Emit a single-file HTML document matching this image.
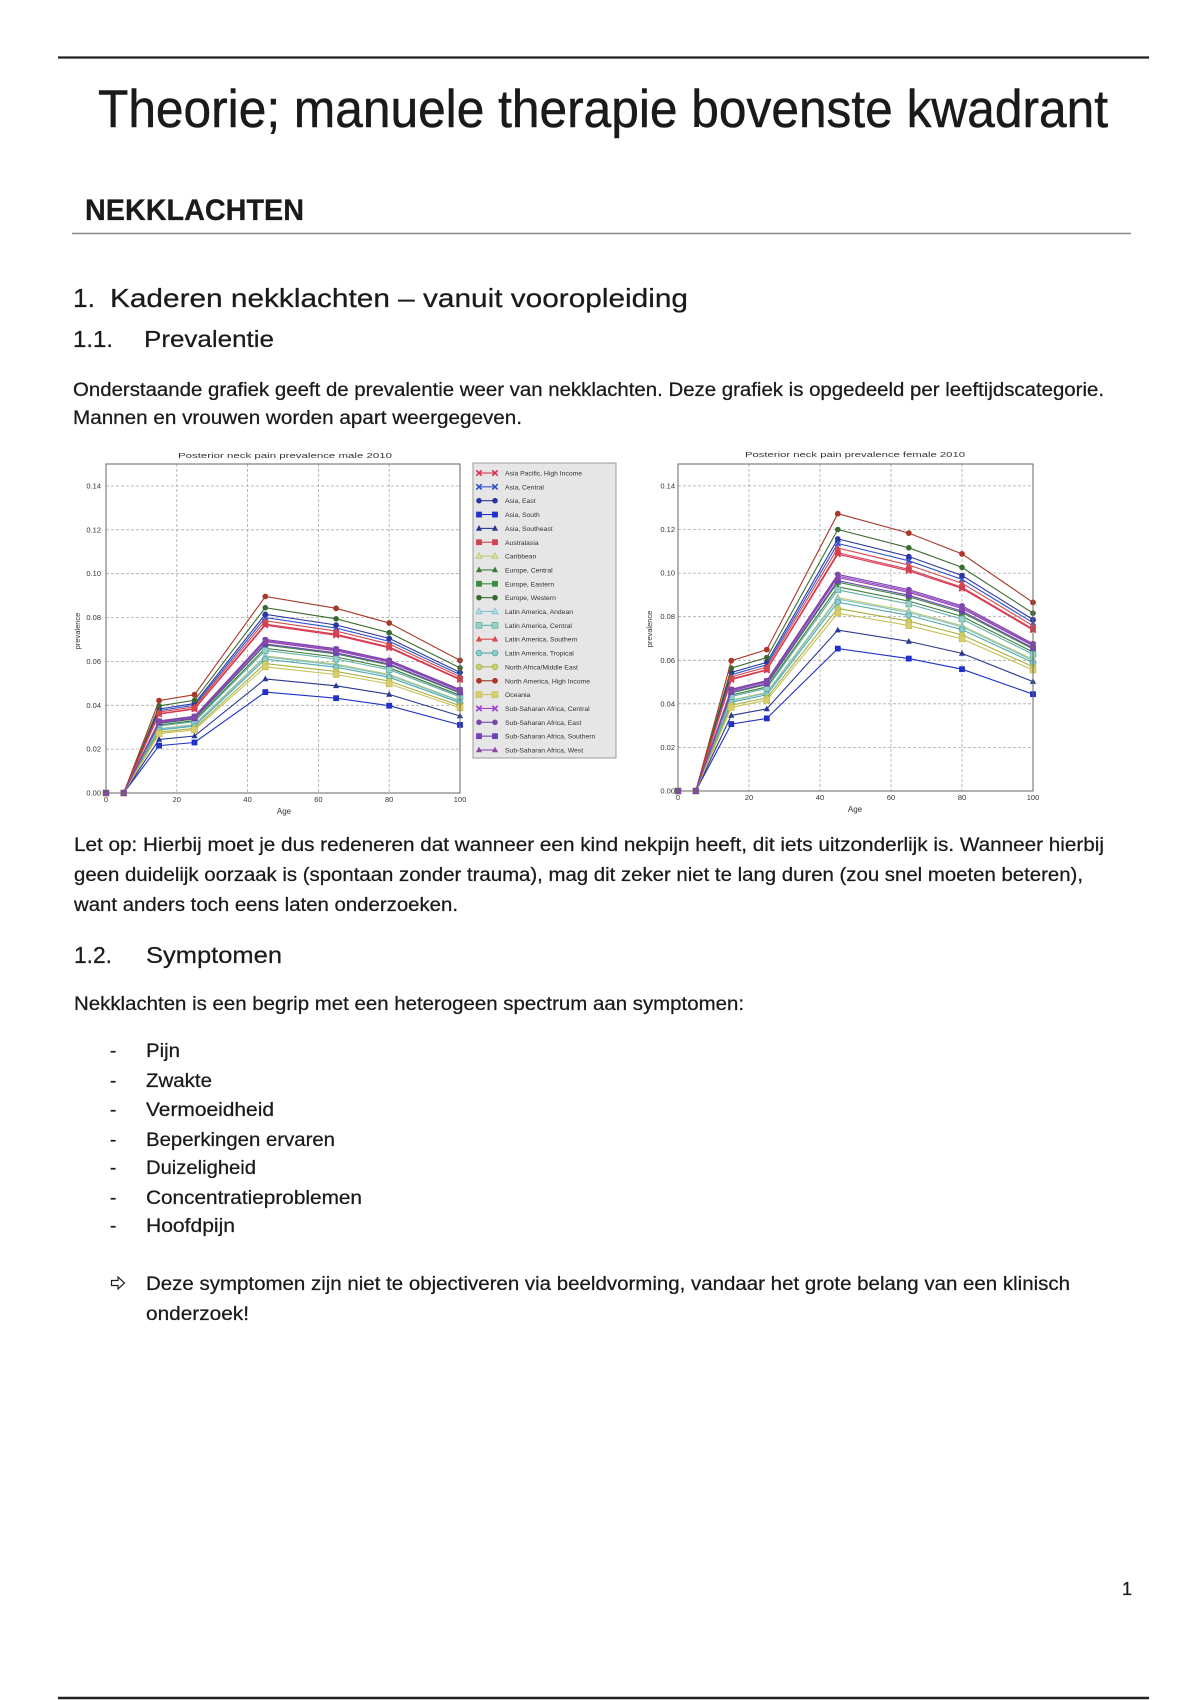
<!DOCTYPE html>
<html>
<head>
<meta charset="utf-8">
<style>
html,body{margin:0;padding:0;background:#fff;}
body{width:1200px;height:1700px;overflow:hidden;}
svg{display:block;}
.t{font-family:"Liberation Sans",sans-serif;fill:#1a1a1a;stroke:#1a1a1a;stroke-width:0.25;}
.ax{font-family:"Liberation Sans",sans-serif;fill:#333;font-size:7.5px;}
.lg{font-family:"Liberation Sans",sans-serif;fill:#333;font-size:6.8px;}
.gr{stroke:#aaa;stroke-width:0.8;stroke-dasharray:3,2;fill:none;}
.s{fill:none;stroke-width:1.1;}
</style>
</head>
<body>
<svg width="1200" height="1700" viewBox="0 0 1200 1700" xmlns="http://www.w3.org/2000/svg">
<defs>
<marker id="m1" markerUnits="userSpaceOnUse" markerWidth="8" markerHeight="8" refX="0" refY="0" overflow="visible"><path d="M-2.7,-2.7L2.7,2.7M-2.7,2.7L2.7,-2.7" stroke="#e03050" stroke-width="1.6" fill="none"/></marker>
<marker id="m2" markerUnits="userSpaceOnUse" markerWidth="8" markerHeight="8" refX="0" refY="0" overflow="visible"><path d="M-2.7,-2.7L2.7,2.7M-2.7,2.7L2.7,-2.7" stroke="#3050d0" stroke-width="1.6" fill="none"/></marker>
<marker id="m3" markerUnits="userSpaceOnUse" markerWidth="8" markerHeight="8" refX="0" refY="0" overflow="visible"><circle r="2.8" fill="#2838a0"/></marker>
<marker id="m4" markerUnits="userSpaceOnUse" markerWidth="8" markerHeight="8" refX="0" refY="0" overflow="visible"><rect x="-2.9" y="-2.9" width="5.8" height="5.8" fill="#2030c8"/></marker>
<marker id="m5" markerUnits="userSpaceOnUse" markerWidth="8" markerHeight="8" refX="0" refY="0" overflow="visible"><path d="M0,-3.4L3.1,2.3L-3.1,2.3Z" fill="#283890"/></marker>
<marker id="m6" markerUnits="userSpaceOnUse" markerWidth="8" markerHeight="8" refX="0" refY="0" overflow="visible"><rect x="-2.9" y="-2.9" width="5.8" height="5.8" fill="#d04050"/></marker>
<marker id="m7" markerUnits="userSpaceOnUse" markerWidth="8" markerHeight="8" refX="0" refY="0" overflow="visible"><path d="M0,-3.4L3.1,2.3L-3.1,2.3Z" fill="#d8e0a0" stroke="#b8c870" stroke-width="0.8"/></marker>
<marker id="m8" markerUnits="userSpaceOnUse" markerWidth="8" markerHeight="8" refX="0" refY="0" overflow="visible"><path d="M0,-3.4L3.1,2.3L-3.1,2.3Z" fill="#3c7a3c"/></marker>
<marker id="m9" markerUnits="userSpaceOnUse" markerWidth="8" markerHeight="8" refX="0" refY="0" overflow="visible"><rect x="-2.9" y="-2.9" width="5.8" height="5.8" fill="#3a8a40"/></marker>
<marker id="m10" markerUnits="userSpaceOnUse" markerWidth="8" markerHeight="8" refX="0" refY="0" overflow="visible"><circle r="2.8" fill="#3a6a30"/></marker>
<marker id="m11" markerUnits="userSpaceOnUse" markerWidth="8" markerHeight="8" refX="0" refY="0" overflow="visible"><path d="M0,-3.4L3.1,2.3L-3.1,2.3Z" fill="#b0dce6" stroke="#80c0d0" stroke-width="0.8"/></marker>
<marker id="m12" markerUnits="userSpaceOnUse" markerWidth="8" markerHeight="8" refX="0" refY="0" overflow="visible"><rect x="-2.9" y="-2.9" width="5.8" height="5.8" fill="#9ad0c8" stroke="#60b0a8" stroke-width="0.8"/></marker>
<marker id="m13" markerUnits="userSpaceOnUse" markerWidth="8" markerHeight="8" refX="0" refY="0" overflow="visible"><path d="M0,-3.4L3.1,2.3L-3.1,2.3Z" fill="#d84848"/></marker>
<marker id="m14" markerUnits="userSpaceOnUse" markerWidth="8" markerHeight="8" refX="0" refY="0" overflow="visible"><circle r="2.8" fill="#90cccc" stroke="#50a8a8" stroke-width="0.8"/></marker>
<marker id="m15" markerUnits="userSpaceOnUse" markerWidth="8" markerHeight="8" refX="0" refY="0" overflow="visible"><circle r="2.8" fill="#c8d070" stroke="#a8b040" stroke-width="0.8"/></marker>
<marker id="m16" markerUnits="userSpaceOnUse" markerWidth="8" markerHeight="8" refX="0" refY="0" overflow="visible"><circle r="2.9" fill="#a83828"/></marker>
<marker id="m17" markerUnits="userSpaceOnUse" markerWidth="8" markerHeight="8" refX="0" refY="0" overflow="visible"><rect x="-2.9" y="-2.9" width="5.8" height="5.8" fill="#d8d070" stroke="#c8c050" stroke-width="0.8"/></marker>
<marker id="m18" markerUnits="userSpaceOnUse" markerWidth="8" markerHeight="8" refX="0" refY="0" overflow="visible"><path d="M-2.7,-2.7L2.7,2.7M-2.7,2.7L2.7,-2.7" stroke="#a040d0" stroke-width="1.6" fill="none"/></marker>
<marker id="m19" markerUnits="userSpaceOnUse" markerWidth="8" markerHeight="8" refX="0" refY="0" overflow="visible"><circle r="2.8" fill="#7848a8"/></marker>
<marker id="m20" markerUnits="userSpaceOnUse" markerWidth="8" markerHeight="8" refX="0" refY="0" overflow="visible"><rect x="-2.9" y="-2.9" width="5.8" height="5.8" fill="#7040b8"/></marker>
<marker id="m21" markerUnits="userSpaceOnUse" markerWidth="8" markerHeight="8" refX="0" refY="0" overflow="visible"><path d="M0,-3.4L3.1,2.3L-3.1,2.3Z" fill="#8848a8"/></marker>
</defs>

<rect x="0" y="0" width="1200" height="1700" fill="#fff"/>

<!-- top rule -->
<line x1="58" y1="57.5" x2="1149" y2="57.5" stroke="#222" stroke-width="2.2"/>

<!-- title -->
<text class="t" x="98" y="127" font-size="53" textLength="1010" lengthAdjust="spacingAndGlyphs" fill="#111" style="stroke-width:0.5">Theorie; manuele therapie bovenste kwadrant</text>

<!-- NEKKLACHTEN -->
<text class="t" x="85" y="220" font-size="30" font-weight="bold" textLength="219" lengthAdjust="spacingAndGlyphs" fill="#151515">NEKKLACHTEN</text>
<line x1="72" y1="233.5" x2="1131" y2="233.5" stroke="#888" stroke-width="1.6"/>

<!-- headings -->
<text class="t" x="73" y="307" font-size="26" textLength="22" lengthAdjust="spacingAndGlyphs" fill="#222">1.</text>
<text class="t" x="110" y="307" font-size="26" textLength="578" lengthAdjust="spacingAndGlyphs" fill="#222">Kaderen nekklachten – vanuit vooropleiding</text>
<text class="t" x="73" y="347" font-size="23" textLength="40" lengthAdjust="spacingAndGlyphs" fill="#222">1.1.</text>
<text class="t" x="144" y="347" font-size="23" textLength="130" lengthAdjust="spacingAndGlyphs" fill="#222">Prevalentie</text>

<!-- paragraph 1 -->
<text class="t" x="73" y="396" font-size="19" textLength="1031" lengthAdjust="spacingAndGlyphs">Onderstaande grafiek geeft de prevalentie weer van nekklachten. Deze grafiek is opgedeeld per leeftijdscategorie.</text>
<text class="t" x="73" y="424" font-size="19" textLength="449" lengthAdjust="spacingAndGlyphs">Mannen en vrouwen worden apart weergegeven.</text>

<!-- ================= MALE CHART ================= -->
<text class="ax" x="285" y="458" font-size="8.5" text-anchor="middle" textLength="214" lengthAdjust="spacingAndGlyphs">Posterior neck pain prevalence male 2010</text>
<rect x="106" y="464" width="354" height="329" fill="#fff"/>
<g class="gr">
<line x1="176.8" y1="464" x2="176.8" y2="793"/>
<line x1="247.6" y1="464" x2="247.6" y2="793"/>
<line x1="318.4" y1="464" x2="318.4" y2="793"/>
<line x1="389.2" y1="464" x2="389.2" y2="793"/>
<line x1="106" y1="749.1" x2="460" y2="749.1"/>
<line x1="106" y1="705.3" x2="460" y2="705.3"/>
<line x1="106" y1="661.4" x2="460" y2="661.4"/>
<line x1="106" y1="617.6" x2="460" y2="617.6"/>
<line x1="106" y1="573.7" x2="460" y2="573.7"/>
<line x1="106" y1="529.8" x2="460" y2="529.8"/>
<line x1="106" y1="486.0" x2="460" y2="486.0"/>
</g>
<g class="ax" text-anchor="end">
<text x="101" y="795.5">0.00</text>
<text x="101" y="751.6">0.02</text>
<text x="101" y="707.8">0.04</text>
<text x="101" y="663.9">0.06</text>
<text x="101" y="620.1">0.08</text>
<text x="101" y="576.2">0.10</text>
<text x="101" y="532.3">0.12</text>
<text x="101" y="488.5">0.14</text>
</g>
<g class="ax" text-anchor="middle">
<text x="106" y="802">0</text>
<text x="176.8" y="802">20</text>
<text x="247.6" y="802">40</text>
<text x="318.4" y="802">60</text>
<text x="389.2" y="802">80</text>
<text x="460" y="802">100</text>
<text x="284" y="814" font-size="8">Age</text>
</g>
<text class="ax" transform="translate(80,631) rotate(-90)" text-anchor="middle">prevalence</text>

<g>
<polyline class="s" stroke="#e03050" marker-start="url(#m1)" marker-mid="url(#m1)" marker-end="url(#m1)" points="106,793 123.7,793 159.1,714.1 194.5,709.1 265.3,625.2 336.1,635.3 389.2,647.9 460,679.7"/>
<polyline class="s" stroke="#3050d0" marker-start="url(#m2)" marker-mid="url(#m2)" marker-end="url(#m2)" points="106,793 123.7,793 159.1,710.6 194.5,705.3 265.3,617.6 336.1,628.1 389.2,641.3 460,674.6"/>
<polyline class="s" stroke="#2838a0" marker-start="url(#m3)" marker-mid="url(#m3)" marker-end="url(#m3)" points="106,793 123.7,793 159.1,709.0 194.5,703.6 265.3,614.3 336.1,625.0 389.2,638.4 460,672.4"/>
<polyline class="s" stroke="#2030c8" marker-start="url(#m4)" marker-mid="url(#m4)" marker-end="url(#m4)" points="106,793 123.7,793 159.1,745.6 194.5,742.5 265.3,692.1 336.1,698.2 389.2,705.7 460,724.9"/>
<polyline class="s" stroke="#283890" marker-start="url(#m5)" marker-mid="url(#m5)" marker-end="url(#m5)" points="106,793 123.7,793 159.1,739.4 194.5,736.0 265.3,679.0 336.1,685.8 389.2,694.4 460,716.0"/>
<polyline class="s" stroke="#d04050" marker-start="url(#m6)" marker-mid="url(#m6)" marker-end="url(#m6)" points="106,793 123.7,793 159.1,713.6 194.5,708.5 265.3,624.1 336.1,634.2 389.2,646.9 460,679.0"/>
<polyline class="s" stroke="#b8c870" marker-start="url(#m7)" marker-mid="url(#m7)" marker-end="url(#m7)" points="106,793 123.7,793 159.1,728.6 194.5,724.4 265.3,655.9 336.1,664.1 389.2,674.4 460,700.5"/>
<polyline class="s" stroke="#3c7a3c" marker-start="url(#m8)" marker-mid="url(#m8)" marker-end="url(#m8)" points="106,793 123.7,793 159.1,725.0 194.5,720.6 265.3,648.3 336.1,657.0 389.2,667.8 460,695.3"/>
<polyline class="s" stroke="#3a8a40" marker-start="url(#m9)" marker-mid="url(#m9)" marker-end="url(#m9)" points="106,793 123.7,793 159.1,723.4 194.5,719.0 265.3,645.0 336.1,653.9 389.2,665.0 460,693.1"/>
<polyline class="s" stroke="#3a6a30" marker-start="url(#m10)" marker-mid="url(#m10)" marker-end="url(#m10)" points="106,793 123.7,793 159.1,705.9 194.5,700.3 265.3,607.7 336.1,618.8 389.2,632.7 460,667.9"/>
<polyline class="s" stroke="#80c0d0" marker-start="url(#m11)" marker-mid="url(#m11)" marker-end="url(#m11)" points="106,793 123.7,793 159.1,729.1 194.5,725.0 265.3,657.0 336.1,665.2 389.2,675.4 460,701.2"/>
<polyline class="s" stroke="#60b0a8" marker-start="url(#m12)" marker-mid="url(#m12)" marker-end="url(#m12)" points="106,793 123.7,793 159.1,726.0 194.5,721.7 265.3,650.5 336.1,659.0 389.2,669.7 460,696.8"/>
<polyline class="s" stroke="#d84848" marker-start="url(#m13)" marker-mid="url(#m13)" marker-end="url(#m13)" points="106,793 123.7,793 159.1,712.1 194.5,706.9 265.3,620.8 336.1,631.1 389.2,644.0 460,676.8"/>
<polyline class="s" stroke="#50a8a8" marker-start="url(#m14)" marker-mid="url(#m14)" marker-end="url(#m14)" points="106,793 123.7,793 159.1,730.1 194.5,726.1 265.3,659.2 336.1,667.2 389.2,677.3 460,702.7"/>
<polyline class="s" stroke="#a8b040" marker-start="url(#m15)" marker-mid="url(#m15)" marker-end="url(#m15)" points="106,793 123.7,793 159.1,732.2 194.5,728.3 265.3,663.6 336.1,671.4 389.2,681.1 460,705.7"/>
<polyline class="s" stroke="#a83828" marker-start="url(#m16)" marker-mid="url(#m16)" marker-end="url(#m16)" points="106,793 123.7,793 159.1,700.6 194.5,694.7 265.3,596.5 336.1,608.3 389.2,623.0 460,660.4"/>
<polyline class="s" stroke="#c8c050" marker-start="url(#m17)" marker-mid="url(#m17)" marker-end="url(#m17)" points="106,793 123.7,793 159.1,733.7 194.5,729.9 265.3,666.9 336.1,674.5 389.2,683.9 460,707.9"/>
<polyline class="s" stroke="#a040d0" marker-start="url(#m18)" marker-mid="url(#m18)" marker-end="url(#m18)" points="106,793 123.7,793 159.1,721.4 194.5,716.8 265.3,640.6 336.1,649.7 389.2,661.2 460,690.1"/>
<polyline class="s" stroke="#7848a8" marker-start="url(#m19)" marker-mid="url(#m19)" marker-end="url(#m19)" points="106,793 123.7,793 159.1,720.9 194.5,716.2 265.3,639.5 336.1,648.7 389.2,660.2 460,689.4"/>
<polyline class="s" stroke="#7040b8" marker-start="url(#m20)" marker-mid="url(#m20)" marker-end="url(#m20)" points="106,793 123.7,793 159.1,722.9 194.5,718.4 265.3,643.9 336.1,652.8 389.2,664.0 460,692.4"/>
<polyline class="s" stroke="#8848a8" marker-start="url(#m21)" marker-mid="url(#m21)" marker-end="url(#m21)" points="106,793 123.7,793 159.1,721.9 194.5,717.3 265.3,641.7 336.1,650.8 389.2,662.1 460,690.9"/>
</g>
<rect x="106" y="464" width="354" height="329" fill="none" stroke="#666" stroke-width="1"/>

<!-- legend -->
<rect x="473" y="463" width="143" height="295" fill="#e6e6e6" stroke="#999" stroke-width="1"/>
<g>
<polyline class="s" stroke="#e03050" marker-start="url(#m1)" marker-end="url(#m1)" points="479,473 495,473"/>
<polyline class="s" stroke="#3050d0" marker-start="url(#m2)" marker-end="url(#m2)" points="479,486.85 495,486.85"/>
<polyline class="s" stroke="#2838a0" marker-start="url(#m3)" marker-end="url(#m3)" points="479,500.7 495,500.7"/>
<polyline class="s" stroke="#2030c8" marker-start="url(#m4)" marker-end="url(#m4)" points="479,514.55 495,514.55"/>
<polyline class="s" stroke="#283890" marker-start="url(#m5)" marker-end="url(#m5)" points="479,528.4 495,528.4"/>
<polyline class="s" stroke="#d04050" marker-start="url(#m6)" marker-end="url(#m6)" points="479,542.25 495,542.25"/>
<polyline class="s" stroke="#b8c870" marker-start="url(#m7)" marker-end="url(#m7)" points="479,556.1 495,556.1"/>
<polyline class="s" stroke="#3c7a3c" marker-start="url(#m8)" marker-end="url(#m8)" points="479,569.95 495,569.95"/>
<polyline class="s" stroke="#3a8a40" marker-start="url(#m9)" marker-end="url(#m9)" points="479,583.8 495,583.8"/>
<polyline class="s" stroke="#3a6a30" marker-start="url(#m10)" marker-end="url(#m10)" points="479,597.65 495,597.65"/>
<polyline class="s" stroke="#80c0d0" marker-start="url(#m11)" marker-end="url(#m11)" points="479,611.5 495,611.5"/>
<polyline class="s" stroke="#60b0a8" marker-start="url(#m12)" marker-end="url(#m12)" points="479,625.35 495,625.35"/>
<polyline class="s" stroke="#d84848" marker-start="url(#m13)" marker-end="url(#m13)" points="479,639.2 495,639.2"/>
<polyline class="s" stroke="#50a8a8" marker-start="url(#m14)" marker-end="url(#m14)" points="479,653.05 495,653.05"/>
<polyline class="s" stroke="#a8b040" marker-start="url(#m15)" marker-end="url(#m15)" points="479,666.9 495,666.9"/>
<polyline class="s" stroke="#a83828" marker-start="url(#m16)" marker-end="url(#m16)" points="479,680.75 495,680.75"/>
<polyline class="s" stroke="#c8c050" marker-start="url(#m17)" marker-end="url(#m17)" points="479,694.6 495,694.6"/>
<polyline class="s" stroke="#a040d0" marker-start="url(#m18)" marker-end="url(#m18)" points="479,708.45 495,708.45"/>
<polyline class="s" stroke="#7848a8" marker-start="url(#m19)" marker-end="url(#m19)" points="479,722.3 495,722.3"/>
<polyline class="s" stroke="#7040b8" marker-start="url(#m20)" marker-end="url(#m20)" points="479,736.15 495,736.15"/>
<polyline class="s" stroke="#8848a8" marker-start="url(#m21)" marker-end="url(#m21)" points="479,750 495,750"/>
</g>
<g class="lg">
<text x="505" y="475.5">Asia Pacific, High Income</text>
<text x="505" y="489.35">Asia, Central</text>
<text x="505" y="503.2">Asia, East</text>
<text x="505" y="517.05">Asia, South</text>
<text x="505" y="530.9">Asia, Southeast</text>
<text x="505" y="544.75">Australasia</text>
<text x="505" y="558.6">Caribbean</text>
<text x="505" y="572.45">Europe, Central</text>
<text x="505" y="586.3">Europe, Eastern</text>
<text x="505" y="600.15">Europe, Western</text>
<text x="505" y="614">Latin America, Andean</text>
<text x="505" y="627.85">Latin America, Central</text>
<text x="505" y="641.7">Latin America, Southern</text>
<text x="505" y="655.55">Latin America, Tropical</text>
<text x="505" y="669.4">North Africa/Middle East</text>
<text x="505" y="683.25">North America, High Income</text>
<text x="505" y="697.1">Oceania</text>
<text x="505" y="710.95">Sub-Saharan Africa, Central</text>
<text x="505" y="724.8">Sub-Saharan Africa, East</text>
<text x="505" y="738.65">Sub-Saharan Africa, Southern</text>
<text x="505" y="752.5">Sub-Saharan Africa, West</text>
</g>

<!-- ================= FEMALE CHART ================= -->
<text class="ax" x="855" y="457" font-size="8.5" text-anchor="middle" textLength="220" lengthAdjust="spacingAndGlyphs">Posterior neck pain prevalence female 2010</text>
<rect x="678" y="464" width="355" height="327" fill="#fff"/>
<g class="gr">
<line x1="749" y1="464" x2="749" y2="791"/>
<line x1="820" y1="464" x2="820" y2="791"/>
<line x1="891" y1="464" x2="891" y2="791"/>
<line x1="962" y1="464" x2="962" y2="791"/>
<line x1="678" y1="747.4" x2="1033" y2="747.4"/>
<line x1="678" y1="703.8" x2="1033" y2="703.8"/>
<line x1="678" y1="660.3" x2="1033" y2="660.3"/>
<line x1="678" y1="616.7" x2="1033" y2="616.7"/>
<line x1="678" y1="573.1" x2="1033" y2="573.1"/>
<line x1="678" y1="529.5" x2="1033" y2="529.5"/>
<line x1="678" y1="485.9" x2="1033" y2="485.9"/>
</g>
<g class="ax" text-anchor="end">
<text x="675" y="793.5">0.00</text>
<text x="675" y="749.9">0.02</text>
<text x="675" y="706.3">0.04</text>
<text x="675" y="662.8">0.06</text>
<text x="675" y="619.2">0.08</text>
<text x="675" y="575.6">0.10</text>
<text x="675" y="532">0.12</text>
<text x="675" y="488.4">0.14</text>
</g>
<g class="ax" text-anchor="middle">
<text x="678" y="800">0</text>
<text x="749" y="800">20</text>
<text x="820" y="800">40</text>
<text x="891" y="800">60</text>
<text x="962" y="800">80</text>
<text x="1033" y="800">100</text>
<text x="855" y="812" font-size="8">Age</text>
</g>
<text class="ax" transform="translate(652,629) rotate(-90)" text-anchor="middle">prevalence</text>

<g>
<polyline class="s" stroke="#e03050" marker-start="url(#m1)" marker-mid="url(#m1)" marker-end="url(#m1)" points="678,791 695.8,791 731.3,679.7 766.8,670.2 837.8,554.2 908.8,570.8 962,588.5 1033,630.0"/>
<polyline class="s" stroke="#3050d0" marker-start="url(#m2)" marker-mid="url(#m2)" marker-end="url(#m2)" points="678,791 695.8,791 731.3,674.7 766.8,664.8 837.8,543.5 908.8,560.8 962,579.4 1033,622.7"/>
<polyline class="s" stroke="#2838a0" marker-start="url(#m3)" marker-mid="url(#m3)" marker-end="url(#m3)" points="678,791 695.8,791 731.3,672.5 766.8,662.4 837.8,538.9 908.8,556.5 962,575.5 1033,619.6"/>
<polyline class="s" stroke="#2030c8" marker-start="url(#m4)" marker-mid="url(#m4)" marker-end="url(#m4)" points="678,791 695.8,791 731.3,724.1 766.8,718.4 837.8,648.6 908.8,658.6 962,669.2 1033,694.2"/>
<polyline class="s" stroke="#283890" marker-start="url(#m5)" marker-mid="url(#m5)" marker-end="url(#m5)" points="678,791 695.8,791 731.3,715.4 766.8,708.9 837.8,630.1 908.8,641.4 962,653.4 1033,681.6"/>
<polyline class="s" stroke="#d04050" marker-start="url(#m6)" marker-mid="url(#m6)" marker-end="url(#m6)" points="678,791 695.8,791 731.3,679.0 766.8,669.5 837.8,552.7 908.8,569.4 962,587.3 1033,629.0"/>
<polyline class="s" stroke="#b8c870" marker-start="url(#m7)" marker-mid="url(#m7)" marker-end="url(#m7)" points="678,791 695.8,791 731.3,700.1 766.8,692.4 837.8,597.6 908.8,611.1 962,625.6 1033,659.5"/>
<polyline class="s" stroke="#3c7a3c" marker-start="url(#m8)" marker-mid="url(#m8)" marker-end="url(#m8)" points="678,791 695.8,791 731.3,695.0 766.8,686.9 837.8,586.8 908.8,601.1 962,616.4 1033,652.1"/>
<polyline class="s" stroke="#3a8a40" marker-start="url(#m9)" marker-mid="url(#m9)" marker-end="url(#m9)" points="678,791 695.8,791 731.3,692.9 766.8,684.5 837.8,582.2 908.8,596.8 962,612.5 1033,649.0"/>
<polyline class="s" stroke="#3a6a30" marker-start="url(#m10)" marker-mid="url(#m10)" marker-end="url(#m10)" points="678,791 695.8,791 731.3,668.1 766.8,657.6 837.8,529.5 908.8,547.8 962,567.4 1033,613.2"/>
<polyline class="s" stroke="#80c0d0" marker-start="url(#m11)" marker-mid="url(#m11)" marker-end="url(#m11)" points="678,791 695.8,791 731.3,700.8 766.8,693.1 837.8,599.1 908.8,612.5 962,626.9 1033,660.5"/>
<polyline class="s" stroke="#60b0a8" marker-start="url(#m12)" marker-mid="url(#m12)" marker-end="url(#m12)" points="678,791 695.8,791 731.3,696.5 766.8,688.4 837.8,589.9 908.8,604.0 962,619.1 1033,654.3"/>
<polyline class="s" stroke="#d84848" marker-start="url(#m13)" marker-mid="url(#m13)" marker-end="url(#m13)" points="678,791 695.8,791 731.3,676.8 766.8,667.1 837.8,548.0 908.8,565.0 962,583.2 1033,625.8"/>
<polyline class="s" stroke="#50a8a8" marker-start="url(#m14)" marker-mid="url(#m14)" marker-end="url(#m14)" points="678,791 695.8,791 731.3,702.3 766.8,694.7 837.8,602.2 908.8,615.4 962,629.6 1033,662.6"/>
<polyline class="s" stroke="#a8b040" marker-start="url(#m15)" marker-mid="url(#m15)" marker-end="url(#m15)" points="678,791 695.8,791 731.3,705.2 766.8,697.9 837.8,608.4 908.8,621.2 962,634.9 1033,666.8"/>
<polyline class="s" stroke="#a83828" marker-start="url(#m16)" marker-mid="url(#m16)" marker-end="url(#m16)" points="678,791 695.8,791 731.3,660.7 766.8,649.6 837.8,513.7 908.8,533.1 962,553.9 1033,602.4"/>
<polyline class="s" stroke="#c8c050" marker-start="url(#m17)" marker-mid="url(#m17)" marker-end="url(#m17)" points="678,791 695.8,791 731.3,707.4 766.8,700.3 837.8,613.1 908.8,625.6 962,638.9 1033,670.0"/>
<polyline class="s" stroke="#a040d0" marker-start="url(#m18)" marker-mid="url(#m18)" marker-end="url(#m18)" points="678,791 695.8,791 731.3,689.9 766.8,681.3 837.8,576.0 908.8,591.0 962,607.2 1033,644.8"/>
<polyline class="s" stroke="#7848a8" marker-start="url(#m19)" marker-mid="url(#m19)" marker-end="url(#m19)" points="678,791 695.8,791 731.3,689.2 766.8,680.5 837.8,574.4 908.8,589.6 962,605.8 1033,643.7"/>
<polyline class="s" stroke="#7040b8" marker-start="url(#m20)" marker-mid="url(#m20)" marker-end="url(#m20)" points="678,791 695.8,791 731.3,692.1 766.8,683.7 837.8,580.6 908.8,595.3 962,611.1 1033,647.9"/>
<polyline class="s" stroke="#8848a8" marker-start="url(#m21)" marker-mid="url(#m21)" marker-end="url(#m21)" points="678,791 695.8,791 731.3,690.7 766.8,682.1 837.8,577.5 908.8,592.4 962,608.5 1033,645.8"/>
</g>
<rect x="678" y="464" width="355" height="327" fill="none" stroke="#666" stroke-width="1"/>

<!-- Let op paragraph -->
<text class="t" x="74" y="851" font-size="19" textLength="1030" lengthAdjust="spacingAndGlyphs">Let op: Hierbij moet je dus redeneren dat wanneer een kind nekpijn heeft, dit iets uitzonderlijk is. Wanneer hierbij</text>
<text class="t" x="74" y="881" font-size="19" textLength="1009" lengthAdjust="spacingAndGlyphs">geen duidelijk oorzaak is (spontaan zonder trauma), mag dit zeker niet te lang duren (zou snel moeten beteren),</text>
<text class="t" x="74" y="911" font-size="19" textLength="384" lengthAdjust="spacingAndGlyphs">want anders toch eens laten onderzoeken.</text>

<!-- 1.2 -->
<text class="t" x="74" y="963" font-size="23" textLength="38" lengthAdjust="spacingAndGlyphs" fill="#222">1.2.</text>
<text class="t" x="146" y="963" font-size="23" textLength="136" lengthAdjust="spacingAndGlyphs" fill="#222">Symptomen</text>

<text class="t" x="74" y="1010" font-size="19" textLength="670" lengthAdjust="spacingAndGlyphs">Nekklachten is een begrip met een heterogeen spectrum aan symptomen:</text>

<!-- list -->
<g class="t" font-size="19">
<text x="110" y="1057">-</text>
<text x="146" y="1057" textLength="34" lengthAdjust="spacingAndGlyphs">Pijn</text>
<text x="110" y="1087">-</text>
<text x="146" y="1087" textLength="66" lengthAdjust="spacingAndGlyphs">Zwakte</text>
<text x="110" y="1116">-</text>
<text x="146" y="1116" textLength="128" lengthAdjust="spacingAndGlyphs">Vermoeidheid</text>
<text x="110" y="1146">-</text>
<text x="146" y="1146" textLength="189" lengthAdjust="spacingAndGlyphs">Beperkingen ervaren</text>
<text x="110" y="1174">-</text>
<text x="146" y="1174" textLength="110" lengthAdjust="spacingAndGlyphs">Duizeligheid</text>
<text x="110" y="1204">-</text>
<text x="146" y="1204" textLength="216" lengthAdjust="spacingAndGlyphs">Concentratieproblemen</text>
<text x="110" y="1232">-</text>
<text x="146" y="1232" textLength="89" lengthAdjust="spacingAndGlyphs">Hoofdpijn</text>
</g>

<!-- arrow + conclusion -->
<path d="M111.5,1280.5 L118,1280.5 L118,1277 L124.5,1283 L118,1289 L118,1285.5 L111.5,1285.5 Z" fill="none" stroke="#222" stroke-width="1.2"/>
<text class="t" x="146" y="1290" font-size="19" textLength="924" lengthAdjust="spacingAndGlyphs">Deze symptomen zijn niet te objectiveren via beeldvorming, vandaar het grote belang van een klinisch</text>
<text class="t" x="146" y="1320" font-size="19" textLength="103" lengthAdjust="spacingAndGlyphs">onderzoek!</text>

<!-- page number -->
<text class="t" x="1127" y="1595" font-size="18" text-anchor="middle">1</text>

<!-- bottom rule -->
<line x1="58" y1="1698" x2="1149" y2="1698" stroke="#222" stroke-width="2.5"/>
</svg>
</body>
</html>
